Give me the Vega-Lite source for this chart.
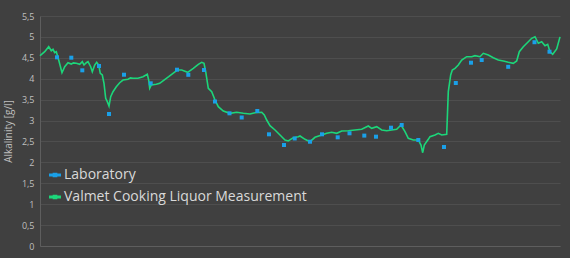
{
  "$schema": "https://vega.github.io/schema/vega-lite/v6.json",
  "width": 520,
  "height": 230,
  "autosize": {"type": "none"},
  "padding": {"left": 40, "top": 16, "right": 10, "bottom": 12},
  "background": "#404040",
  "config": {
    "view": {"stroke": null},
    "font": "Open Sans"
  },
  "datasets": {
    "valmet": [
      {"t": 0, "v": 4.55}, {"t": 0.7, "v": 4.567}, {"t": 4.7, "v": 4.646}, {"t": 8.7, "v": 4.766}, {"t": 11.3, "v": 4.67},
      {"t": 13, "v": 4.703}, {"t": 14.7, "v": 4.622}, {"t": 16.3, "v": 4.646}, {"t": 18.7, "v": 4.448}, {"t": 22, "v": 4.144},
      {"t": 24.7, "v": 4.287}, {"t": 28, "v": 4.383}, {"t": 31.3, "v": 4.352}, {"t": 33.5, "v": 4.38}, {"t": 36.3, "v": 4.369},
      {"t": 39.7, "v": 4.345}, {"t": 42.3, "v": 4.407}, {"t": 44, "v": 4.328}, {"t": 46.3, "v": 4.383}, {"t": 48, "v": 4.407},
      {"t": 50.7, "v": 4.287}, {"t": 52.3, "v": 4.168}, {"t": 54.7, "v": 4.328}, {"t": 56.7, "v": 4.393}, {"t": 58.7, "v": 4.328},
      {"t": 60.3, "v": 4.13}, {"t": 62.3, "v": 4.089}, {"t": 64, "v": 3.89}, {"t": 65.7, "v": 3.532}, {"t": 67.3, "v": 3.451},
      {"t": 69, "v": 3.348}, {"t": 70.7, "v": 3.57}, {"t": 73, "v": 3.69}, {"t": 76.3, "v": 3.809}, {"t": 79.7, "v": 3.905},
      {"t": 83, "v": 3.969}, {"t": 88, "v": 3.986}, {"t": 90.5, "v": 4.02}, {"t": 93, "v": 4.01}, {"t": 98, "v": 4.01},
      {"t": 103, "v": 4.048}, {"t": 107.3, "v": 4.106}, {"t": 108.7, "v": 3.969}, {"t": 109.7, "v": 3.771}, {"t": 111.3, "v": 3.85},
      {"t": 116.3, "v": 3.867}, {"t": 119.7, "v": 3.89}, {"t": 124, "v": 3.969}, {"t": 128.7, "v": 4.048}, {"t": 133, "v": 4.13},
      {"t": 137.3, "v": 4.208}, {"t": 141.7, "v": 4.208}, {"t": 147.7, "v": 4.154}, {"t": 153.3, "v": 4.249}, {"t": 158.3, "v": 4.345},
      {"t": 161.7, "v": 4.393}, {"t": 164, "v": 4.369}, {"t": 165.7, "v": 4.168}, {"t": 168.3, "v": 3.771}, {"t": 171.7, "v": 3.69},
      {"t": 175, "v": 3.491}, {"t": 178.3, "v": 3.331}, {"t": 183.3, "v": 3.228}, {"t": 190, "v": 3.173}, {"t": 196.7, "v": 3.197},
      {"t": 203.3, "v": 3.173}, {"t": 210, "v": 3.156}, {"t": 215, "v": 3.187}, {"t": 221.7, "v": 3.197}, {"t": 224.3, "v": 3.132},
      {"t": 226.7, "v": 3.013}, {"t": 230, "v": 2.877}, {"t": 235, "v": 2.774}, {"t": 240, "v": 2.654}, {"t": 245, "v": 2.535},
      {"t": 248.3, "v": 2.511}, {"t": 253.3, "v": 2.59}, {"t": 258.3, "v": 2.614}, {"t": 260, "v": 2.63}, {"t": 265, "v": 2.551},
      {"t": 270, "v": 2.494}, {"t": 275, "v": 2.599}, {"t": 281.7, "v": 2.654}, {"t": 286.7, "v": 2.695}, {"t": 291.7, "v": 2.719},
      {"t": 296.7, "v": 2.695}, {"t": 301.7, "v": 2.75}, {"t": 308.3, "v": 2.757}, {"t": 315, "v": 2.774}, {"t": 321.7, "v": 2.791},
      {"t": 328.3, "v": 2.869}, {"t": 331.7, "v": 2.814}, {"t": 336.7, "v": 2.853}, {"t": 341.7, "v": 2.774}, {"t": 346.7, "v": 2.757},
      {"t": 351.7, "v": 2.774}, {"t": 356.7, "v": 2.791}, {"t": 361, "v": 2.893}, {"t": 365, "v": 2.733}, {"t": 368.3, "v": 2.575},
      {"t": 373.3, "v": 2.535}, {"t": 378.3, "v": 2.535}, {"t": 381, "v": 2.415}, {"t": 382.7, "v": 2.231}, {"t": 384.3, "v": 2.415},
      {"t": 388.3, "v": 2.551}, {"t": 390, "v": 2.614}, {"t": 395, "v": 2.654}, {"t": 398.3, "v": 2.695}, {"t": 401.7, "v": 2.654},
      {"t": 406.7, "v": 2.671}, {"t": 408.3, "v": 3.69}, {"t": 410.7, "v": 4.089}, {"t": 412.3, "v": 4.208}, {"t": 415, "v": 4.249},
      {"t": 418.3, "v": 4.328}, {"t": 421.7, "v": 4.448}, {"t": 426.7, "v": 4.527}, {"t": 431.7, "v": 4.527}, {"t": 435, "v": 4.551},
      {"t": 440, "v": 4.527}, {"t": 443.3, "v": 4.608}, {"t": 448.3, "v": 4.567}, {"t": 453.3, "v": 4.503}, {"t": 458.3, "v": 4.448},
      {"t": 463.3, "v": 4.424}, {"t": 468.3, "v": 4.393}, {"t": 473.3, "v": 4.369}, {"t": 476.7, "v": 4.424}, {"t": 479.3, "v": 4.646},
      {"t": 483.3, "v": 4.766}, {"t": 488.3, "v": 4.885}, {"t": 491.7, "v": 4.967}, {"t": 495, "v": 5.005}, {"t": 498.3, "v": 4.847},
      {"t": 501.7, "v": 4.885}, {"t": 505, "v": 4.79}, {"t": 507.7, "v": 4.823}, {"t": 510, "v": 4.646}, {"t": 512.7, "v": 4.584},
      {"t": 516.7, "v": 4.711}, {"t": 520, "v": 5.0}
    ],
    "lab": [
      {"t": 17, "v": 4.512}, {"t": 31.3, "v": 4.503}, {"t": 42.3, "v": 4.201}, {"t": 59, "v": 4.304}, {"t": 69, "v": 3.156},
      {"t": 84, "v": 4.096}, {"t": 110.7, "v": 3.89}, {"t": 137, "v": 4.216}, {"t": 148.3, "v": 4.094}, {"t": 164, "v": 4.208},
      {"t": 175, "v": 3.455}, {"t": 189.5, "v": 3.173}, {"t": 201.7, "v": 3.073}, {"t": 217.3, "v": 3.228}, {"t": 229, "v": 2.671},
      {"t": 244, "v": 2.415}, {"t": 254.7, "v": 2.571}, {"t": 270, "v": 2.494}, {"t": 282, "v": 2.671}, {"t": 297.7, "v": 2.599},
      {"t": 309.5, "v": 2.695}, {"t": 324.3, "v": 2.64}, {"t": 336, "v": 2.614}, {"t": 351, "v": 2.829}, {"t": 361.7, "v": 2.893},
      {"t": 378.3, "v": 2.535}, {"t": 404, "v": 2.367}, {"t": 415.8, "v": 3.898}, {"t": 431, "v": 4.383}, {"t": 441.7, "v": 4.448},
      {"t": 468.2, "v": 4.285}, {"t": 494.5, "v": 4.873}, {"t": 509.5, "v": 4.646}
    ]
  },
  "encoding": {
    "x": {
      "field": "t", "type": "quantitative",
      "scale": {"domain": [0, 520], "nice": false, "zero": false},
      "axis": {"title": null, "labels": false, "ticks": false, "grid": false, "domain": true, "domainColor": "#5e5e5e", "domainWidth": 1}
    },
    "y": {
      "field": "v", "type": "quantitative",
      "scale": {"domain": [0, 5.5], "nice": false},
      "axis": {
        "title": "Alkalinity [g/l]",
        "titleColor": "#bfbfbf", "titleFontSize": 10, "titleFontWeight": "normal", "titlePadding": 8,
        "values": [0, 0.5, 1, 1.5, 2, 2.5, 3, 3.5, 4, 4.5, 5, 5.5],
        "labelExpr": "replace(format(datum.value, ''), '.', ',')",
        "labelColor": "#bfbfbf", "labelFontSize": 9, "labelPadding": 6,
        "ticks": false, "domain": true, "domainColor": "#5e5e5e",
        "grid": true, "gridColor": "#4e4e4e", "gridWidth": 1
      }
    },
    "color": {
      "field": "series", "type": "nominal",
      "scale": {"domain": ["Laboratory", "Valmet Cooking Liquor Measurement"], "range": ["#1aa0e8", "#1cd67a"]},
      "legend": {
        "title": null, "orient": "none", "legendX": 8, "legendY": 152,
        "labelColor": "#d9d9d9", "labelFontSize": 14, "labelOffset": 2, "labelLimit": 400,
        "symbolType": "M-1,-0.12H1V0.12H-1Z M-0.3,-0.3H0.3V0.3H-0.3Z",
        "symbolSize": 110, "rowPadding": 8,
        "encode": {"symbols": {"update": {"fill": {"scale": "color", "field": "value"}, "stroke": {"value": "transparent"}, "opacity": {"value": 1}}}}
      }
    }
  },
  "layer": [
    {
      "data": {"name": "valmet"},
      "transform": [{"calculate": "'Valmet Cooking Liquor Measurement'", "as": "series"}],
      "mark": {"type": "line", "strokeWidth": 1.6, "interpolate": "linear"}
    },
    {
      "data": {"name": "lab"},
      "transform": [{"calculate": "'Laboratory'", "as": "series"}],
      "mark": {"type": "square", "size": 16, "filled": true, "opacity": 1}
    }
  ]
}
